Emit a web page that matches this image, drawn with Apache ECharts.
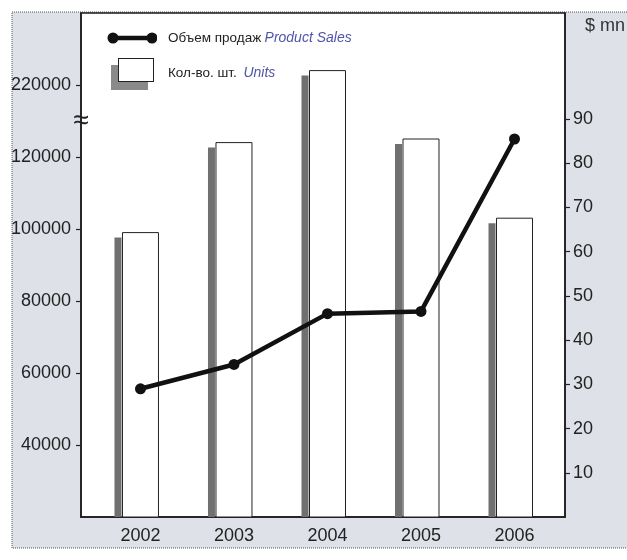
<!DOCTYPE html>
<html>
<head>
<meta charset="utf-8">
<script src="https://cdn.jsdelivr.net/npm/echarts@6/dist/echarts.min.js"></script>
<style>
  html, body { margin: 0; padding: 0; background: #fff; }
  #chart { width: 627px; height: 560px; }
</style>
</head>
<body>
<div id="chart"></div>
<script>
// Years on the horizontal axis
const years = [2002, 2003, 2004, 2005, 2006];
// Units sold (left axis, pieces)
const unitsSold = [99000, 124000, 224000, 125000, 103000];
// Product sales (right axis, $ mn)
const salesMn = [29, 34.5, 46, 46.5, 85.5];
// Tick labels
const unitTicks = [40000, 60000, 80000, 100000, 120000, 220000];
const salesTicks = [10, 20, 30, 40, 50, 60, 70, 80, 90];

const FONT = '"Liberation Sans", Arial, sans-serif';
const UNITS_MIN = 20000;

const svgUri = s => 'image://data:image/svg+xml;charset=utf-8,' + encodeURIComponent(s);
const lineIcon = svgUri(
  "<svg xmlns='http://www.w3.org/2000/svg' width='50' height='34'>" +
  "<line x1='6' y1='17' x2='45' y2='17' stroke='#111' stroke-width='4.5'/>" +
  "<circle cx='6' cy='17' r='5.5' fill='#111'/><circle cx='45' cy='17' r='5.5' fill='#111'/></svg>");
const boxIcon = svgUri(
  "<svg xmlns='http://www.w3.org/2000/svg' width='50' height='34'>" +
  "<rect x='4' y='9' width='37' height='25' fill='#8a8a8a'/>" +
  "<rect x='11.5' y='2.5' width='35' height='23' fill='#fff' stroke='#222' stroke-width='1'/></svg>");

const chart = echarts.init(document.getElementById('chart'), null, { renderer: 'canvas' });

const BAR_W = 36, SHADOW_W = 7, SHADOW_GAP = 1, SHADOW_DROP = 5;

const card = {
  // grey card behind the plot
  type: 'rect', z: -10, silent: true,
  shape: { x: 12, y: 12, width: 620, height: 536 },
  style: { fill: '#dee1e8', stroke: '#555', lineWidth: 1, lineDash: [1, 1] }
};

chart.setOption({
  animation: false,
  backgroundColor: '#fff',
  title: {
    text: '$ mn', right: 2, top: 17, padding: 0,
    textStyle: { fontFamily: FONT, fontSize: 18, fontWeight: 'normal', color: '#333' }
  },
  legend: {
    orient: 'vertical', left: 107, top: 21, padding: 0,
    itemWidth: 50, itemHeight: 34, itemGap: 1,
    selectedMode: false,
    data: [
      { name: 'Объем продаж', icon: lineIcon },
      { name: 'Кол-во. шт.', icon: boxIcon }
    ],
    formatter: name => name === 'Объем продаж'
      ? '{ru|Объем продаж} {en|Product Sales}'
      : '{ru|Кол-во. шт.}  {en|Units}',
    textStyle: {
      padding: [0, 0, 0, 6],
      rich: {
        ru: { fontFamily: FONT, fontSize: 13.5, color: '#222' },
        en: { fontFamily: FONT, fontSize: 14, fontStyle: 'italic', color: '#4f55a6' }
      }
    }
  },
  grid: {
    left: 81, right: 62, top: 13, bottom: 43,
    show: true, backgroundColor: '#fff', borderColor: '#1a1a1a', borderWidth: 1.5
  },
  xAxis: {
    type: 'value', min: 2001.364, max: 2006.54,
    axisLine: { show: true, lineStyle: { color: '#1a1a1a', width: 1.5 } },
    axisTick: { show: false },
    splitLine: { show: false },
    axisLabel: {
      customValues: years, margin: 10,
      fontFamily: FONT, fontSize: 18, color: '#222',
      formatter: v => String(v)
    }
  },
  yAxis: [
    {
      type: 'value', min: UNITS_MIN, max: 240000, interval: 20000,
      breaks: [{ start: 130000, end: 210000, gap: 0 }],
      breakArea: { show: false },
      axisLine: { show: true, lineStyle: { color: '#1a1a1a', width: 1.5 } },
      axisTick: { show: true, customValues: unitTicks, length: 5, lineStyle: { color: '#222', width: 1.2 } },
      splitLine: { show: false },
      axisLabel: {
        customValues: unitTicks, margin: 10,
        fontFamily: FONT, fontSize: 18, color: '#222',
        formatter: v => String(v)
      }
    },
    {
      type: 'value', min: 0, max: 114, interval: 10, position: 'right',
      axisLine: { show: true, lineStyle: { color: '#1a1a1a', width: 1.5 } },
      axisTick: { show: true, customValues: salesTicks, length: 5, lineStyle: { color: '#222', width: 1.2 } },
      splitLine: { show: false },
      axisLabel: {
        customValues: salesTicks, margin: 8,
        fontFamily: FONT, fontSize: 18, color: '#222',
        formatter: v => String(v)
      }
    }
  ],
  graphic: [card],
  series: [
    {
      name: 'Кол-во. шт.',
      type: 'custom',
      xAxisIndex: 0, yAxisIndex: 0,
      data: years.map((y, i) => [y, unitsSold[i]]),
      encode: { x: 0, y: 1 },
      renderItem: (params, api) => {
        const top = api.coord([api.value(0), api.value(1)]);
        const base = api.coord([api.value(0), UNITS_MIN]);
        const half = BAR_W / 2;
        return {
          type: 'group',
          children: [
            {
              type: 'rect',
              shape: {
                x: top[0] - half - SHADOW_GAP - SHADOW_W, y: top[1] + SHADOW_DROP,
                width: SHADOW_W, height: base[1] - top[1] - SHADOW_DROP
              },
              style: { fill: '#707070' }
            },
            {
              type: 'rect',
              shape: { x: top[0] - half, y: top[1], width: BAR_W, height: base[1] - top[1] },
              style: { fill: '#fff', stroke: '#222', lineWidth: 1 }
            }
          ]
        };
      },
      z: 2
    },
    {
      name: 'Объем продаж',
      type: 'line',
      xAxisIndex: 0, yAxisIndex: 1,
      data: years.map((y, i) => [y, salesMn[i]]),
      symbol: 'circle', symbolSize: 11,
      lineStyle: { color: '#111', width: 4.5 },
      itemStyle: { color: '#111' },
      z: 5
    }
  ]
});

// axis-break mark on the left axis
const breakY = chart.convertToPixel({ yAxisIndex: 0 }, 130000);
chart.setOption({
  graphic: [
    card,
    {
      type: 'text', z: 20, silent: true,
      x: 81, y: breakY,
      style: { text: '≈', fontFamily: FONT, fontSize: 28, fill: '#222', align: 'center', verticalAlign: 'middle' }
    }
  ]
});
</script>
</body>
</html>
